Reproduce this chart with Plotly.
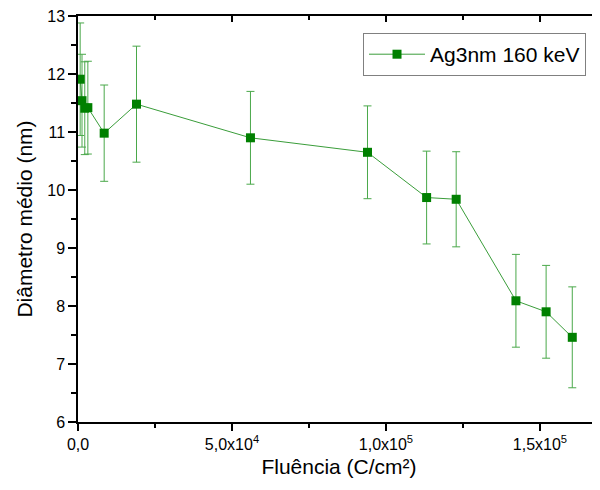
import plotly.graph_objects as go

fluence = [700, 1300, 2200, 3200, 8500, 19000, 56000, 94000, 113200, 122800, 142200, 152000, 160500]
diameter = [11.91, 11.54, 11.41, 11.42, 10.98, 11.48, 10.90, 10.65, 9.87, 9.84, 8.09, 7.90, 7.46]
error = [0.97, 0.80, 0.80, 0.80, 0.83, 1.00, 0.80, 0.80, 0.80, 0.82, 0.80, 0.80, 0.87]
series_name = "Ag3nm 160 keV"

x_tickvals = [0, 50000, 100000, 150000]
x_ticktext = ["0,0", "5,0x10<sup>4</sup>", "1,0x10<sup>5</sup>", "1,5x10<sup>5</sup>"]
y_tickvals = [6, 7, 8, 9, 10, 11, 12, 13]

FONT = "Liberation Sans, Arial, sans-serif"

fig = go.Figure()
fig.add_trace(go.Scatter(
    x=fluence, y=diameter, mode="lines+markers", name=series_name,
    line=dict(color="#3a9d3a", width=1),
    marker=dict(symbol="square", size=9, color="#008000"),
    error_y=dict(type="data", array=error, visible=True, color="#4aa84a", thickness=1, width=4),
))
fig.add_trace(go.Scatter(x=[None], y=[None], xaxis="x2", showlegend=False, hoverinfo="skip"))

# page body has an 8px margin, so the figure is 8px smaller and shifted
fig.update_layout(
    width=592, height=482,
    margin=dict(l=70, r=0, t=8, b=68),
    paper_bgcolor="white", plot_bgcolor="white",
    font=dict(family=FONT, size=16, color="black"),
    showlegend=True,
    legend=dict(x=0.546, y=0.958, xanchor="left", yanchor="top",
                bordercolor="#808080", borderwidth=1, bgcolor="white",
                font=dict(size=21, family=FONT), itemwidth=56),
    xaxis=dict(range=[0, 169500], tickvals=x_tickvals, ticktext=x_ticktext,
               ticks="outside", ticklen=7, tickwidth=1.5, tickcolor="black",
               showline=True, linecolor="black", linewidth=1.5,
               showgrid=False, zeroline=False, automargin=False,
               ticklabeloverflow="allow",
               minor=dict(tickvals=[25000, 75000, 125000], ticks="outside", ticklen=4, tickcolor="black"),
               title=dict(text="Fluência (C/cm²)", font=dict(size=21), standoff=7),
               tickfont=dict(size=16)),
    xaxis2=dict(range=[0, 169500], overlaying="x", side="top", tickvals=x_tickvals,
                showticklabels=False, ticks="inside", ticklen=6, tickwidth=1.5, tickcolor="black",
                showline=True, linecolor="black", linewidth=1.5, showgrid=False, zeroline=False,
                automargin=False,
                minor=dict(tickvals=[25000, 75000, 125000], ticks="inside", ticklen=4, tickcolor="black")),
    yaxis=dict(range=[6, 13], tickvals=y_tickvals,
               ticks="outside", ticklen=8, tickwidth=1.5, tickcolor="black",
               showline=True, linecolor="black", linewidth=1.5,
               showgrid=False, zeroline=False, automargin=False,
               ticklabeloverflow="allow",
               minor=dict(dtick=0.5, ticks="outside", ticklen=5, tickcolor="black"),
               title=dict(text="Diâmetro médio (nm)", font=dict(size=21), standoff=9),
               tickfont=dict(size=16)),
)

fig.write_html("out.html")
